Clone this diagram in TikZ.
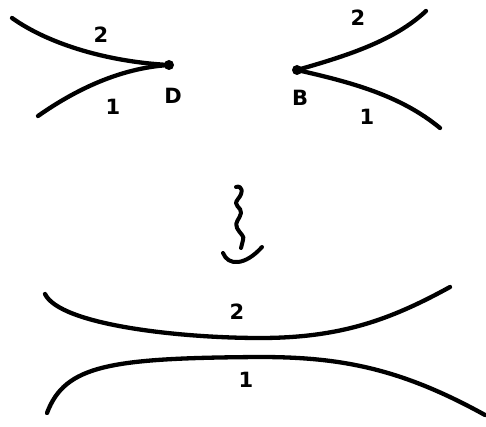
\documentclass[tikz,border=0pt]{standalone}
\usepackage{fontspec}
\setmainfont{DejaVu Sans}
\begin{document}
\begin{tikzpicture}[x=1pt,y=-1pt,
  strand/.style={line width=4.3pt,line cap=round,line join=round},
  lbl/.style={font=\bfseries\fontsize{21}{21}\selectfont,inner sep=0pt},
  dotn/.style={circle,fill=black,inner sep=0pt,minimum size=10pt}]
\useasboundingbox (0,0) rectangle (486,427);
% top left
\node[dotn] (D) at (169,65) {};
\coordinate (dl2) at (12,18);
\coordinate (dl1) at (38,116);
\draw[strand] (dl2) .. controls (50,45) and (110,62) .. (D.center);
\draw[strand] (dl1) .. controls (75,90) and (120,68) .. (D.center);
\node[lbl] (tl2) at (101,35) {2};
\node[lbl] (tl1) at (113,107) {1};
\node[lbl] (Dl) at (173,96) {D};
% top right
\node[dotn] (B) at (297,70) {};
\coordinate (br2) at (426,11);
\coordinate (br1) at (440,128);
\draw[strand] (B.center) .. controls (350,55) and (395,40) .. (br2);
\draw[strand] (B.center) .. controls (350,82) and (400,95) .. (br1);
\node[lbl] (tr2) at (358,18) {2};
\node[lbl] (tr1) at (367,117) {1};
\node[lbl] (Bl) at (300,98) {B};
% squiggle arrow
\coordinate (s0) at (236,187);
\coordinate (s1) at (241,248);
\draw[strand,line width=4pt] (s0) .. controls (242,185) and (244,192) .. (238,199)
  .. controls (232,206) and (242,207) .. (241,213)
  .. controls (240,219) and (234,222) .. (237,228)
  .. controls (240,234) and (245,236) .. (243,240)
  .. controls (242,244) .. (s1);
\coordinate (h0) at (223,253);
\coordinate (h1) at (262,247);
\draw[strand,line width=4pt] (h0) .. controls (228,266) and (245,266) .. (h1);
% bottom
\coordinate (b2a) at (45,294);
\coordinate (b2b) at (450,287);
\coordinate (b2m) at (260,338);
\draw[strand] (b2a) .. controls (60,325) and (180,338) .. (b2m)
  .. controls (340,338) and (390,320) .. (b2b);
\coordinate (b1a) at (47,413);
\coordinate (b1b) at (485,415);
\coordinate (b1m) at (260,357);
\draw[strand] (b1a) .. controls (65,365) and (110,358) .. (b1m)
  .. controls (340,357) and (400,368) .. (b1b);
\node[lbl] (bo2) at (237,312) {2};
\node[lbl] (bo1) at (246,380) {1};
\end{tikzpicture}
\end{document}
